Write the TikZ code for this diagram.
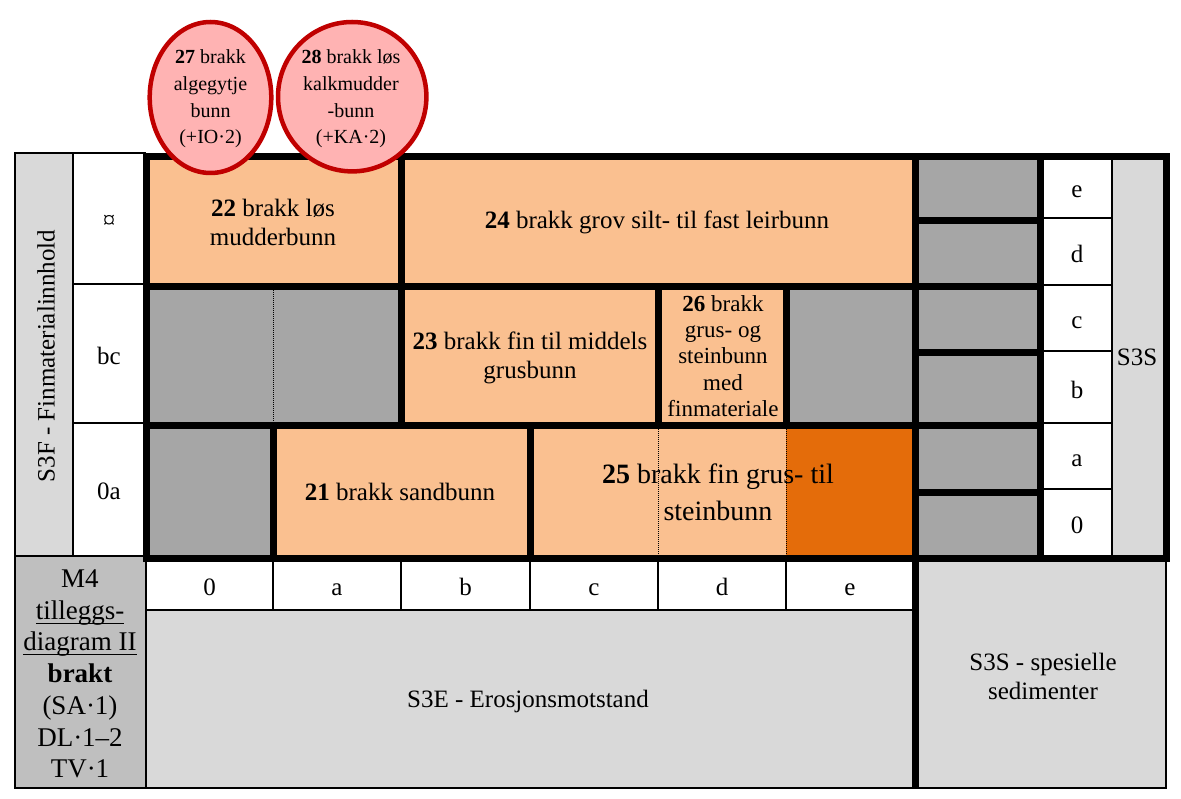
\documentclass[tikz,border=0pt]{standalone}
\usepackage{fontspec}
\setmainfont{Liberation Serif}
\definecolor{peach}{HTML}{FAC090}
\definecolor{dorange}{HTML}{E46C0A}
\definecolor{mgray}{HTML}{A6A6A6}
\definecolor{lgray}{HTML}{D9D9D9}
\definecolor{mfgray}{HTML}{BFBFBF}
\definecolor{pinkfill}{HTML}{FFB3B3}
\definecolor{darkred}{HTML}{C00000}
\newcommand{\myul}[1]{\setbox0\hbox{#1}\rlap{\rule[-4.5pt]{\wd0}{1.2pt}}\box0}
\tikzset{
  thickln/.style={line width=7pt},
  thinln/.style={line width=1.1pt},
  dotln/.style={line width=0.8pt, dash pattern=on 1pt off 1pt},
  txt/.style={font=\fontsize{25}{29}\selectfont, align=center, inner sep=0pt},
  smalltxt/.style={font=\fontsize{23}{26.3}\selectfont, align=center, inner sep=0pt},
  circtxt/.style={font=\fontsize{20}{26.7}\selectfont, align=center, inner sep=0pt},
  bigtxt/.style={font=\fontsize{28}{37}\selectfont, align=center, inner sep=0pt},
  mtxt/.style={font=\fontsize{27}{31.7}\selectfont, align=center, inner sep=0pt},
  bubble/.style={draw=darkred, fill=pinkfill, line width=4.5pt},
}
\begin{document}
\begin{tikzpicture}[x=1pt,y=-1pt]
\useasboundingbox (0,0) rectangle (1181,799);
% fills
\fill[lgray] (15,153) rectangle (73,556);
\fill[peach] (146,156) rectangle (915,286);
\fill[mgray] (146,286) rectangle (401,425);
\fill[peach] (401,286) rectangle (786,425);
\fill[mgray] (786,286) rectangle (915,425);
\fill[mgray] (146,425) rectangle (273,558);
\fill[peach] (273,425) rectangle (786,558);
\fill[dorange] (786,425) rectangle (915,558);
\fill[mgray] (915,156) rectangle (1040,558);
\fill[lgray] (1112,156) rectangle (1166,558);
\fill[mfgray] (15,556) rectangle (146,788);
\fill[lgray] (146,610) rectangle (915,788);
\fill[lgray] (915,558) rectangle (1166,788);
% thin lines
\draw[thinln] (146,153) -- (15,153) -- (15,788) -- (1166,788) -- (1166,558);
\draw[thinln] (73,153) -- (73,556);
\draw[thinln] (15,556) -- (146,556);
\draw[thinln] (73,284) -- (146,284);
\draw[thinln] (73,423) -- (146,423);
\draw[thinln] (146,558) -- (146,788);
\draw[thinln] (146,610) -- (915,610);
\foreach \x in {273,401,530,658,786} \draw[thinln] (\x,558) -- (\x,610);
\draw[thinln] (1112,156) -- (1112,558);
\foreach \y in {218,285,351,423,489} \draw[thinln] (1040,\y) -- (1112,\y);
% dotted
\draw[dotln] (273,290) -- (273,422);
\draw[dotln] (658,429) -- (658,555);
\draw[dotln] (786,429) -- (786,555);
% thick lines
\draw[thickln] (146,156.5) rectangle (1166,558.5);
\draw[thickln] (915.5,156.5) -- (915.5,788);
\draw[thickln] (1040,156.5) -- (1040,558.5);
\draw[thickln] (146,286.5) -- (915.5,286.5);
\draw[thickln] (146,425.5) -- (915.5,425.5);
\foreach \y in {220.5,286.5,352.5,426,492} \draw[thickln] (915.5,\y) -- (1040,\y);
\draw[thickln] (401.5,156.5) -- (401.5,425.5);
\draw[thickln] (658.5,286.5) -- (658.5,425.5);
\draw[thickln] (786.5,286.5) -- (786.5,425.5);
\draw[thickln] (273.5,425.5) -- (273.5,558.5);
\draw[thickln] (530.5,425.5) -- (530.5,558.5);
% bubbles
\draw[bubble] (210.5,97.5) ellipse [x radius=60.8, y radius=75.5];
\draw[bubble] (352.2,96.7) ellipse [x radius=74.2, y radius=74.7];
\node[circtxt] (t27) at (210.5,99) {\textbf{27} brakk\\algegytje\\bunn\\(+IO·2)};
\node[circtxt] (t28) at (351,99) {\textbf{28} brakk løs\\kalkmudder\\-bunn\\(+KA·2)};
% cell texts
\node[txt] (t22) at (273,222.5) {\textbf{22} brakk løs\\mudderbunn};
\node[txt, anchor=base] (t24) at (657,229) {\textbf{24} brakk grov silt- til fast leirbunn};
\node[txt] (t23) at (530,357.5) {\textbf{23} brakk fin til middels\\grusbunn};
\node[smalltxt] (t26) at (723,356) {\textbf{26} brakk\\grus- og\\steinbunn\\med\\finmateriale};
\node[txt, anchor=base] (t21) at (400,500) {\textbf{21} brakk sandbunn};
\node[bigtxt] (t25) at (718,492) {\textbf{25} brakk fin grus- til\\steinbunn};
% row labels
\node[txt] (rq) at (109,222) {¤};
\node[txt, anchor=base] (rbc) at (109,365) {bc};
\node[txt, anchor=base] (r0a) at (109,499.5) {0a};
\node[txt, rotate=90] (s3f) at (46,356) {S3F - Finmaterialinnhold};
% column headers
\foreach \x/\l/\n in {209.5/0/h0,337/a/ha,465.5/b/hb,594/c/hc,722/d/hd,850/e/he}
  \node[txt, anchor=base] (\n) at (\x,595) {\l};
% right column
\foreach \y/\l/\n in {197.5/e/ve,263/d/vd,328.5/c/vc,399/b/vb,467/a/va,533.5/0/v0}
  \node[txt, anchor=base] (\n) at (1077,\y) {\l};
\node[txt, anchor=base] (s3s) at (1137,366) {S3S};
% bottom
\node[txt, anchor=base] (s3e) at (528,707) {S3E - Erosjonsmotstand};
\node[txt] (s3ss) at (1043,676) {S3S - spesielle\\sedimenter};
\node[mtxt] (m4) at (80,674) {M4\\\myul{tilleggs-}\\\myul{diagram II}\\\textbf{brakt}\\(SA·1)\\DL·1–2\\TV·1};
\end{tikzpicture}
\end{document}
